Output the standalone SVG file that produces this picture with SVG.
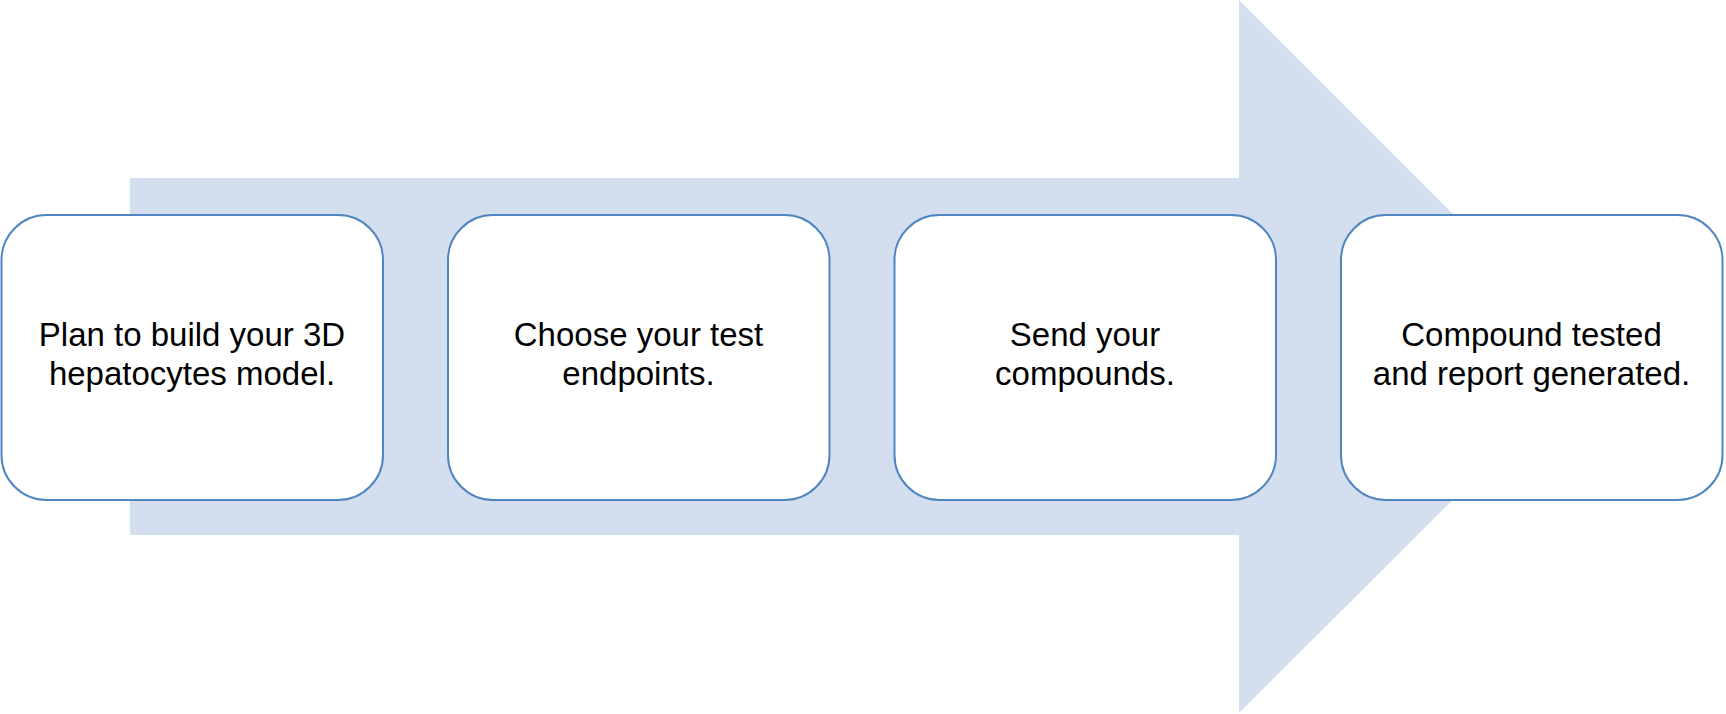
<svg xmlns="http://www.w3.org/2000/svg" width="1726" height="714" viewBox="0 0 1726 714">
<style>
.box{fill:#ffffff;stroke:#4f86c0;stroke-width:2}
.t{font-family:"Liberation Sans",Arial,sans-serif;font-size:33px;fill:#000;text-anchor:middle}
</style>
<rect width="1726" height="714" fill="#ffffff"/>
<g id="arrow">
<polygon points="130,178 1239,178 1239,0 1596,357 1239,713 1239,535 130,535" fill="#d3deef"/>
</g>
<g id="connectors"></g>
<g id="node1">
<rect class="box" x="1.5" y="215" width="381.5" height="285" rx="45" ry="45"/>
<text class="t" x="192" y="346">Plan to build your 3D</text>
<text class="t" x="192" y="385">hepatocytes model.</text>
</g>
<g id="node2">
<rect class="box" x="448" y="215" width="381.5" height="285" rx="45" ry="45"/>
<text class="t" x="638.5" y="346">Choose your test</text>
<text class="t" x="638.5" y="385">endpoints.</text>
</g>
<g id="node3">
<rect class="box" x="894.5" y="215" width="381.5" height="285" rx="45" ry="45"/>
<text class="t" x="1085" y="346">Send your</text>
<text class="t" x="1085" y="385">compounds.</text>
</g>
<g id="node4">
<rect class="box" x="1341" y="215" width="381.5" height="285" rx="45" ry="45"/>
<text class="t" x="1531.5" y="346">Compound tested</text>
<text class="t" x="1531.5" y="385">and report generated.</text>
</g>
</svg>
